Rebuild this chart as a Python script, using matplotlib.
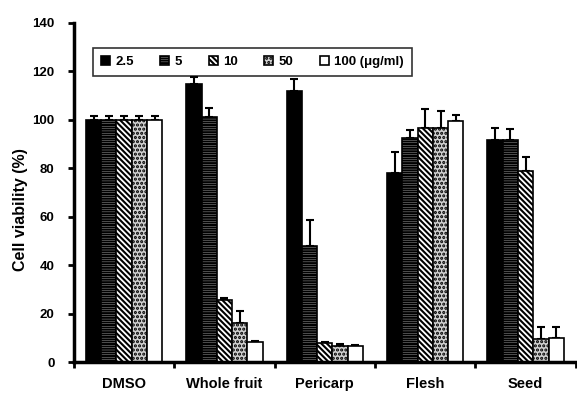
import matplotlib
matplotlib.use("Agg")
import matplotlib.pyplot as plt
import numpy as np

categories = ["DMSO", "Whole fruit", "Pericarp", "Flesh", "Seed"]
doses = ["2.5", "5", "10", "50", "100 (\u03bcg/ml)"]

# viability per dose, one list per dose across the categories
v_2_5 = [100, 114.6, 111.8, 78.2, 91.6]
v_5 = [100, 101.0, 48.0, 92.4, 91.6]
v_10 = [100, 25.6, 7.7, 96.8, 79.0]
v_50 = [100, 16.2, 6.7, 96.8, 9.5]
v_100 = [100, 8.4, 6.7, 99.3, 9.8]

e_2_5 = [1.5, 3.0, 5.0, 8.3, 4.9]
e_5 = [1.5, 4.0, 10.6, 3.5, 4.6]
e_10 = [1.5, 1.0, 0.7, 7.7, 5.6]
e_50 = [1.5, 4.7, 0.6, 6.9, 4.8]
e_100 = [1.5, 0.4, 0.4, 2.7, 4.5]

values = [v_2_5, v_5, v_10, v_50, v_100]
errors = [e_2_5, e_5, e_10, e_50, e_100]

styles = [
    dict(facecolor="black", hatch=None),
    dict(facecolor="white", hatch="-------"),
    dict(facecolor="white", hatch="\\\\\\\\\\\\"),
    dict(facecolor="#d0d0d0", hatch="...."),
    dict(facecolor="white", hatch=None),
]

plt.rcParams["font.family"] = ["Liberation Sans", "DejaVu Sans"]
plt.rcParams["font.weight"] = "bold"
plt.rcParams["hatch.linewidth"] = 1.5

fig = plt.figure(figsize=(5.77, 3.94), dpi=100)
ax = fig.add_axes([0.128, 0.081, 0.87, 0.861])

x = np.arange(len(categories))
w = 0.152
for i, (vals, errs, st) in enumerate(zip(values, errors, styles)):
    pos = x + (i - 2) * w
    ax.bar(pos, vals, w, facecolor=st["facecolor"], hatch=st["hatch"],
           edgecolor="black", linewidth=1.2, label=doses[i], zorder=2)
    ax.errorbar(pos, vals, yerr=[np.zeros(len(errs)), errs], fmt="none",
                ecolor="black", elinewidth=1.5, capsize=3, capthick=1.5,
                zorder=1)

ax.set_xlim(-0.5, 4.5)
ax.set_ylim(0, 140)
ax.set_yticks(range(0, 141, 20))
ax.set_xticks(np.arange(-0.5, 4.6, 1))
ax.set_xticklabels([])
ax.set_xticks(x, minor=True)
ax.set_xticklabels(categories, minor=True, fontsize=10.5, fontweight="bold")
ax.tick_params(axis="x", which="minor", length=0, pad=11)
ax.tick_params(axis="x", which="major", length=4, width=2, direction="out")
ax.tick_params(axis="y", length=4, width=2, direction="out", labelsize=9.5,
               pad=10)
ax.set_ylabel("Cell viability (%)", fontsize=11.5, fontweight="bold",
              labelpad=3)
ax.yaxis.label.set_y(0.45)

for s in ("top", "right"):
    ax.spines[s].set_visible(False)
for s in ("left", "bottom"):
    ax.spines[s].set_linewidth(2.5)

leg = ax.legend(loc="upper left", bbox_to_anchor=(0.038, 0.925), ncol=5,
                frameon=True, fancybox=False, edgecolor="black",
                fontsize=9.5, handlelength=0.7, handleheight=0.7,
                handletextpad=0.4, columnspacing=2.0, borderpad=0.6,
                borderaxespad=0)
leg.get_frame().set_linewidth(1.2)

fig.savefig("out.png", dpi=100)
